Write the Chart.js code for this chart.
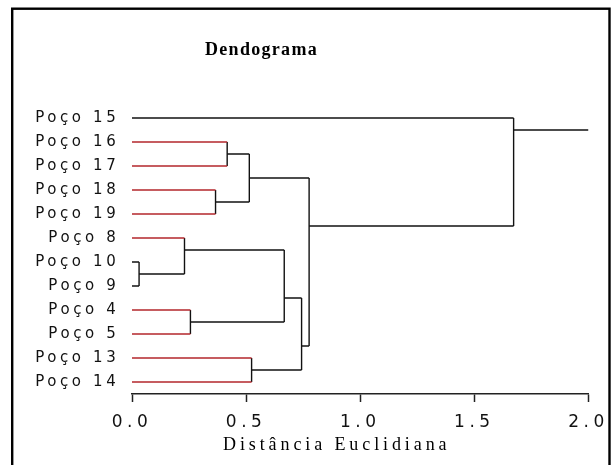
<!DOCTYPE html>
<html>
<head>
<meta charset="utf-8">
<script src="https://cdn.jsdelivr.net/npm/chart.js@4/dist/chart.umd.min.js"></script>
<style>
  html, body { margin: 0; padding: 0; background: #fff; }
</style>
</head>
<body>
<canvas id="myChart" width="612" height="465"></canvas>
<script>
// leaves, top to bottom
const leaves = ["Poço 15", "Poço 16", "Poço 17", "Poço 18", "Poço 19", "Poço 8",
  "Poço 10", "Poço 9", "Poço 4", "Poço 5", "Poço 13", "Poço 14"];

// merges: node ids 0..11 are leaves, merge k gets id 12 + k
const mergeLeft = [1, 3, 12, 6, 5, 8, 16, 10, 18, 14, 0];
const mergeRight = [2, 4, 13, 7, 15, 9, 17, 11, 19, 20, 21];
const mergeDist = [0.417, 0.366, 0.514, 0.031, 0.230, 0.256, 0.667, 0.524, 0.743, 0.776, 1.672];
const mergeRow = [1.5, 3.5, 2.5, 6.5, 5.5, 8.5, 7.5, 10.5, 9.5, 4.5, 0.5];
const rootEnd = 2.0;

const xTicks = [0, 0.5, 1.0, 1.5, 2.0];

const chartTitle = "Dendograma";
const xTitle = "Distância Euclidiana";

const blackLeaves = ["Poço 15", "Poço 10", "Poço 9"];
const RED = "#b3262b";
const BLACK = "#111";

function nodeDist(id) {
  return id < leaves.length ? 0 : mergeDist[id - leaves.length];
}
function nodeRow(id) {
  return id < leaves.length ? id : mergeRow[id - leaves.length];
}
function segColor(child) {
  if (child < leaves.length && !blackLeaves.includes(leaves[child])) return RED;
  return BLACK;
}

function seg(x1, y1, x2, y2, color) {
  return {
    data: [{ x: x1, y: y1 }, { x: x2, y: y2 }],
    showLine: true,
    borderColor: color,
    borderWidth: 1.4,
    pointRadius: 0,
    fill: false,
  };
}

let datasets = [];
for (let k = 0; k < mergeDist.length; k++) {
  const d = mergeDist[k];
  [mergeLeft[k], mergeRight[k]].forEach((c) => {
    datasets.push(seg(nodeDist(c), nodeRow(c), d, nodeRow(c), segColor(c)));
  });
  datasets.push(seg(d, nodeRow(mergeLeft[k]), d, nodeRow(mergeRight[k]), BLACK));
}
// tail from the root
const rootK = mergeDist.length - 1;
datasets.push(seg(mergeDist[rootK], mergeRow[rootK], rootEnd, mergeRow[rootK], BLACK));

// letter spacing for the wide fonts of the original, plus titles and frame
const extras = {
  id: "extras",
  beforeDraw(chart) {
    chart.ctx.letterSpacing = "3.6px"; // y labels
  },
  afterDatasetsDraw(chart) {
    chart.ctx.letterSpacing = "4.5px"; // x tick labels (z: 1)
  },
  afterDraw(chart) {
    const ctx = chart.ctx;
    ctx.save();
    ctx.fillStyle = "#000";
    ctx.textAlign = "left";
    ctx.textBaseline = "alphabetic";
    ctx.letterSpacing = "1.3px";
    ctx.font = "bold 18px 'Liberation Serif'";
    ctx.fillText(chartTitle, 205, 55);
    ctx.letterSpacing = "3.9px";
    ctx.font = "18px 'Liberation Serif'";
    ctx.fillText(xTitle, 223, 450);
    ctx.letterSpacing = "0px";
    ctx.strokeStyle = "#000";
    ctx.lineWidth = 2.4;
    ctx.strokeRect(12.2, 8.7, 597.3, 470);
    ctx.restore();
    ctx.letterSpacing = "0px";
  },
};

const config = {
  type: "scatter",
  data: { datasets: datasets },
  options: {
    responsive: false,
    devicePixelRatio: 1,
    animation: false,
    layout: {
      padding: { top: 106, right: 22, left: 0, bottom: 0 },
    },
    plugins: {
      legend: { display: false },
      tooltip: { enabled: false },
    },
    scales: {
      x: {
        type: "linear",
        min: 0,
        max: 2,
        afterBuildTicks: (scale) => {
          scale.ticks = xTicks.map((v) => ({ value: v }));
        },
        afterFit: (scale) => {
          scale.height = 71;
        },
        grid: {
          drawOnChartArea: false,
          drawTicks: true,
          tickLength: 8,
          tickWidth: 1.5,
          tickColor: "#222",
        },
        border: { display: true, color: "#222", width: 1.5 },
        ticks: {
          z: 1,
          padding: 10,
          maxRotation: 0,
          autoSkip: false,
          color: "#111",
          font: { family: "'DejaVu Sans'", size: 17 },
          callback: (v) => Number(v).toFixed(1),
        },
      },
      y: {
        type: "linear",
        reverse: true,
        min: -0.5,
        max: 11.5,
        afterBuildTicks: (scale) => {
          scale.ticks = leaves.map((_, i) => ({ value: i }));
        },
        afterFit: (scale) => {
          scale.width = 132;
        },
        grid: { display: false, drawTicks: false },
        border: { display: false },
        ticks: {
          padding: 12.7,
          autoSkip: false,
          color: "#111",
          font: { family: "'DejaVu Sans'", size: 15 },
          callback: (v) => leaves[v],
        },
      },
    },
  },
  plugins: [extras],
};

const myChart = new Chart(document.getElementById("myChart"), config);
</script>
</body>
</html>
